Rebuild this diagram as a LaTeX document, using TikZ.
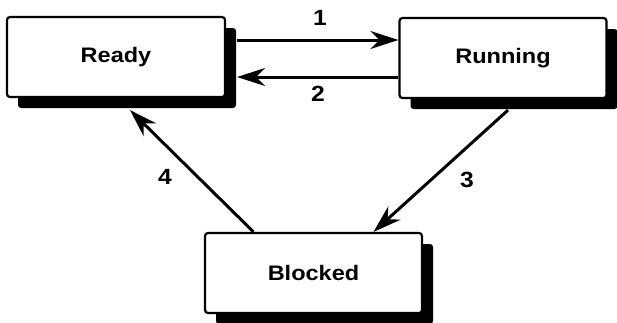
\documentclass[tikz,border=0pt]{standalone}
\usepackage{fontspec}
\setmainfont{Liberation Sans}[FakeStretch=1.12]
\usetikzlibrary{arrows.meta,shadows}
\tikzset{
  stbox/.style={draw=black, line width=2.2pt, rounded corners=3pt, fill=white,
    minimum width=218pt, minimum height=80pt, inner sep=0pt,
    font=\bfseries\fontsize{21}{24}\selectfont,
    drop shadow={shadow xshift=11pt, shadow yshift=-11pt, fill=black, opacity=1}},
  arr/.style={line width=3pt, -{Stealth[length=28pt,width=18pt,inset=9pt]}},
  lbl/.style={font=\bfseries\fontsize{22}{24}\selectfont, inner sep=0pt}
}
\begin{document}
\begin{tikzpicture}[x=1pt,y=-1pt]
\useasboundingbox[fill=white] (0,0) rectangle (617,322);
\node[stbox] (ready) at (116,57) {Ready};
\node[stbox, minimum width=207pt] (running) at (503,58) {Running};
\node[stbox, minimum width=217pt] (blocked) at (313.5,273) {Blocked};
\coordinate (y1) at (0,40);
\coordinate (y2) at (0,77);
\draw[arr] ([xshift=11pt]ready.east |- y1) -- (running.west |- y1);
\draw[arr] (running.west |- y2) -- ([xshift=11pt]ready.east |- y2);
\draw[arr] ([shift={(5pt,-11pt)}]running.south) -- ([xshift=60pt]blocked.north);
\draw[arr] ([xshift=-60pt]blocked.north) -- ([shift={(14pt,-12pt)}]ready.south);
\node[lbl] (l1) at (320,18) {1};
\node[lbl] (l2) at (318,94) {2};
\node[lbl] (l3) at (467,180) {3};
\node[lbl] (l4) at (165,177) {4};
\end{tikzpicture}
\end{document}
